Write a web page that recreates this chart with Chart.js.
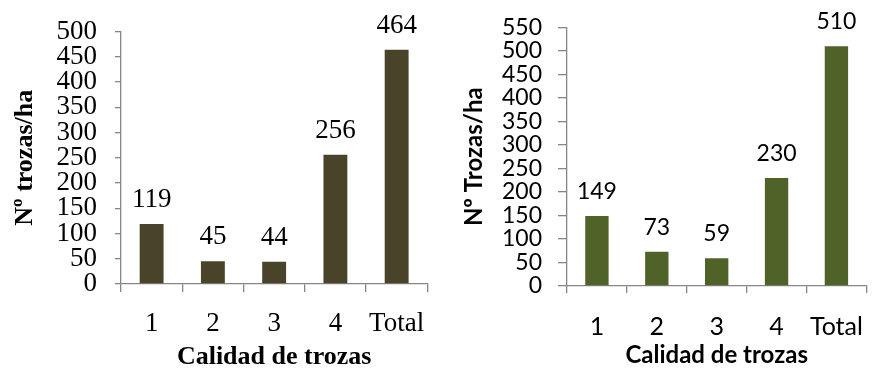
<!DOCTYPE html>
<html>
<head>
<meta charset="utf-8">
<script src="https://cdn.jsdelivr.net/npm/chart.js@4/dist/chart.umd.min.js"></script>
<style>
  html, body { margin: 0; padding: 0; background: #fff; }
  .panel { position: absolute; top: 0; width: 441px; height: 370px; }
  #left { left: 0; }
  #right { left: 441px; }
</style>
</head>
<body>
<div class="panel" id="left"><canvas id="chartIzq" width="441" height="370"></canvas></div>
<div class="panel" id="right"><canvas id="chartDer" width="441" height="370"></canvas></div>
<script>
const calidades = ['1', '2', '3', '4', 'Total'];
const trozasIzq = [119, 45, 44, 256, 464];
const trozasDer = [149, 73, 59, 230, 510];
const maxIzq = 500;
const maxDer = 550;
const pasoY = 50;
const tituloYIzq = 'Nº trozas/ha';
const tituloYDer = 'Nº Trozas/ha';
const tituloX = 'Calidad de trozas';

const colorEje = '#868686';

// escribe el valor encima de cada barra
const etiquetasValor = {
    id: 'etiquetasValor',
    afterDatasetsDraw(chart, args, opts) {
        const ctx = chart.ctx;
        const meta = chart.getDatasetMeta(0);
        const datos = chart.data.datasets[0].data;
        ctx.save();
        ctx.font = opts.font;
        ctx.fillStyle = '#000';
        ctx.textAlign = 'center';
        ctx.textBaseline = 'alphabetic';
        meta.data.forEach((bar, i) => {
            ctx.fillText(String(datos[i]), bar.x, bar.y - opts.offset);
        });
        ctx.restore();
    }
};

function crearGrafico(id, valores, color, cfg) {
    const ctx = document.getElementById(id).getContext('2d');
    return new Chart(ctx, {
        type: 'bar',
        data: {
            labels: calidades,
            datasets: [{
                data: valores,
                backgroundColor: color,
                borderWidth: 0,
                barPercentage: 0.39,
                categoryPercentage: 1
            }]
        },
        options: {
            responsive: false,
            animation: false,
            layout: { padding: { top: cfg.top, right: cfg.right, left: 0, bottom: 0 } },
            plugins: {
                legend: { display: false },
                tooltip: { enabled: false },
                etiquetasValor: { font: cfg.fontValor, offset: cfg.offsetValor }
            },
            scales: {
                x: {
                    afterFit: (s) => { s.height = cfg.altoX; },
                    grid: {
                        offset: true,
                        drawOnChartArea: false,
                        drawTicks: true,
                        tickLength: cfg.tickX,
                        color: colorEje,
                        lineWidth: 1.3
                    },
                    border: { color: colorEje, width: 1.3 },
                    ticks: {
                        autoSkip: false,
                        maxRotation: 0,
                        color: '#000',
                        padding: cfg.padX,
                        font: { family: cfg.familia, size: cfg.tamX }
                    },
                    title: {
                        display: true,
                        text: tituloX,
                        color: '#000',
                        font: { family: cfg.familia, size: cfg.tamTitulo, weight: 'bold', lineHeight: 1 },
                        padding: { top: 0, bottom: cfg.padTituloX }
                    }
                },
                y: {
                    min: 0,
                    max: cfg.max,
                    afterFit: (s) => { s.width = cfg.anchoY; },
                    grid: {
                        drawOnChartArea: false,
                        drawTicks: true,
                        tickLength: cfg.tickY,
                        color: colorEje,
                        lineWidth: 1.3
                    },
                    border: { color: colorEje, width: 1.3 },
                    ticks: {
                        stepSize: pasoY,
                        autoSkip: false,
                        color: '#000',
                        padding: cfg.padY,
                        font: { family: cfg.familia, size: cfg.tamY, lineHeight: 1 }
                    },
                    title: {
                        display: true,
                        text: cfg.tituloY,
                        color: '#000',
                        font: { family: cfg.familia, size: cfg.tamTitulo, weight: 'bold', lineHeight: 1 },
                        padding: { top: cfg.padTituloY, bottom: 0 }
                    }
                }
            }
        },
        plugins: [etiquetasValor]
    });
}

crearGrafico('chartIzq', trozasIzq, '#494429', {
    familia: '"Liberation Serif", "Times New Roman", serif',
    tamX: 27, tamY: 27, tamTitulo: 26,
    fontValor: '27px "Liberation Serif", serif', offsetValor: 17,
    max: maxIzq, tituloY: tituloYIzq,
    top: 26, right: 8, anchoY: 121, altoX: 86,
    tickX: 8, tickY: 6, padX: 16, padY: 18,
    padTituloX: 0, padTituloY: 12
});

crearGrafico('chartDer', trozasDer, '#4f6228', {
    familia: 'Lato, "Open Sans", sans-serif',
    tamX: 25, tamY: 23, tamTitulo: 24,
    fontValor: '23px Lato, sans-serif', offsetValor: 17,
    max: maxDer, tituloY: tituloYDer,
    top: 24, right: 1, anchoY: 126, altoX: 84,
    tickX: 7, tickY: 9, padX: 19, padY: 16,
    padTituloX: 3, padTituloY: 21
});
</script>
</body>
</html>
